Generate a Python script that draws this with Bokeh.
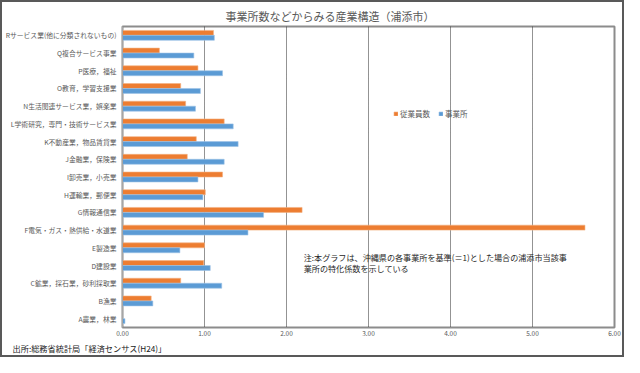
from bokeh.plotting import figure
from bokeh.models import (FactorRange, Range1d, FixedTicker, NumeralTickFormatter,
                          Label, Legend, LegendItem, ColumnDataSource, Title)
from bokeh.transform import dodge
from bokeh.embed import file_html
from bokeh.resources import INLINE

# ---- data (top to bottom as in the chart) ----
categories = [
    "Rサービス業(他に分類されないもの)",
    "Q複合サービス事業",
    "P医療，福祉",
    "O教育，学習支援業",
    "N生活関連サービス業，娯楽業",
    "L学術研究，専門・技術サービス業",
    "K不動産業，物品賃貸業",
    "J金融業，保険業",
    "I卸売業，小売業",
    "H運輸業，郵便業",
    "G情報通信業",
    "F電気・ガス・熱供給・水道業",
    "E製造業",
    "D建設業",
    "C鉱業，採石業，砂利採取業",
    "B漁業",
    "A農業，林業",
]
employees = [1.11, 0.45, 0.92, 0.71, 0.77, 1.24, 0.90, 0.79, 1.22, 1.01, 2.19, 5.64, 1.00, 0.99, 0.71, 0.35, 0.00]
establishments = [1.12, 0.87, 1.22, 0.95, 0.89, 1.35, 1.41, 1.24, 0.92, 0.98, 1.72, 1.53, 0.70, 1.07, 1.21, 0.37, 0.03]
series_names = ["従業員数", "事業所"]
x_ticks = [0, 1, 2, 3, 4, 5, 6]

title_text = "事業所数などからみる産業構造（浦添市）"
note_lines = ["注:本グラフは、沖縄県の各事業所を基準(＝1)とした場合の浦添市当該事",
              "業所の特化係数を示している"]
source_text = "出所:総務省統計局「経済センサス(H24)」"

FONT = "Noto Sans CJK JP"
ORANGE = "#ED7D31"
BLUE = "#5B9BD5"
GRAY_TEXT = "#595959"

src = ColumnDataSource(dict(cat=categories, emp=employees, est=establishments))

p = figure(width=624, height=357,
           x_range=Range1d(0, 6),
           y_range=FactorRange(factors=categories[::-1], range_padding=0),
           output_backend="svg", toolbar_location=None,
           min_border_left=118, min_border_right=12,
           min_border_top=24, min_border_bottom=32)
p.styles = {"border": "2px solid #595959"}
p.background_fill_color = "white"
p.border_fill_color = "white"
p.outline_line_color = "#8c8c8c"
p.outline_line_width = 2

# title
p.title.text = title_text
p.title.align = "left"
p.title.offset = 103
p.title.standoff = 6
p.title.text_font = FONT
p.title.text_font_size = "11px"
p.title.text_font_style = "normal"
p.title.text_color = GRAY_TEXT

r1 = p.hbar(y=dodge("cat", 0.14, range=p.y_range), left=0, right="emp", height=0.28,
            source=src, fill_color=ORANGE, line_color="#F4B183", line_width=0.6)
r2 = p.hbar(y=dodge("cat", -0.14, range=p.y_range), left=0, right="est", height=0.28,
            source=src, fill_color=BLUE, line_color="#9DC3E6", line_width=0.6)

# axes
p.xaxis.ticker = FixedTicker(ticks=x_ticks)
p.xaxis.formatter = NumeralTickFormatter(format="0.00")
p.xaxis.major_label_text_font = FONT
p.xaxis.major_label_text_font_size = "6.5px"
p.xaxis.major_label_text_color = GRAY_TEXT
p.xaxis.major_label_standoff = 3
p.xaxis.major_tick_line_color = None
p.xaxis.major_tick_out = 0
p.xaxis.major_tick_in = 0
p.xaxis.minor_tick_line_color = None
p.xaxis.minor_tick_out = 0
p.xaxis.axis_line_color = "#8c8c8c"

p.yaxis.major_label_text_font = FONT
p.yaxis.major_label_text_font_size = "6.8px"
p.yaxis.major_label_text_color = GRAY_TEXT
p.yaxis.major_label_standoff = 6
p.yaxis.major_tick_line_color = None
p.yaxis.major_tick_out = 0
p.yaxis.major_tick_in = 0
p.yaxis.axis_line_color = "#a6a6a6"

p.xgrid.ticker = FixedTicker(ticks=x_ticks[1:-1])
p.xgrid.grid_line_color = "#262626"
p.xgrid.grid_line_dash = "1 1"
p.xgrid.grid_line_width = 1
p.ygrid.grid_line_color = None

# source note below the chart
p.add_layout(Title(text=source_text, align="left", offset=-110, standoff=2,
                   text_font=FONT, text_font_size="8.2px", text_font_style="normal",
                   text_color="#1a1a1a"), "below")

# legend
legend = Legend(items=[LegendItem(label=series_names[0], renderers=[r1]),
                       LegendItem(label=series_names[1], renderers=[r2])],
                location=(271, 208), orientation="horizontal",
                glyph_width=5, glyph_height=5, label_standoff=2, spacing=8,
                padding=0, margin=0, border_line_color=None,
                background_fill_alpha=0,
                label_text_font=FONT, label_text_font_size="7.5px",
                label_text_color=GRAY_TEXT)
p.add_layout(legend)

# note text inside plot
for line, yy in zip(note_lines, [3.95, 3.33]):
    p.add_layout(Label(x=2.21, y=yy, text=line, text_font=FONT,
                       text_font_size="8.1px", text_color="#262626",
                       text_baseline="middle", text_align="left"))

open("out.html", "w").write(file_html(p, INLINE))
